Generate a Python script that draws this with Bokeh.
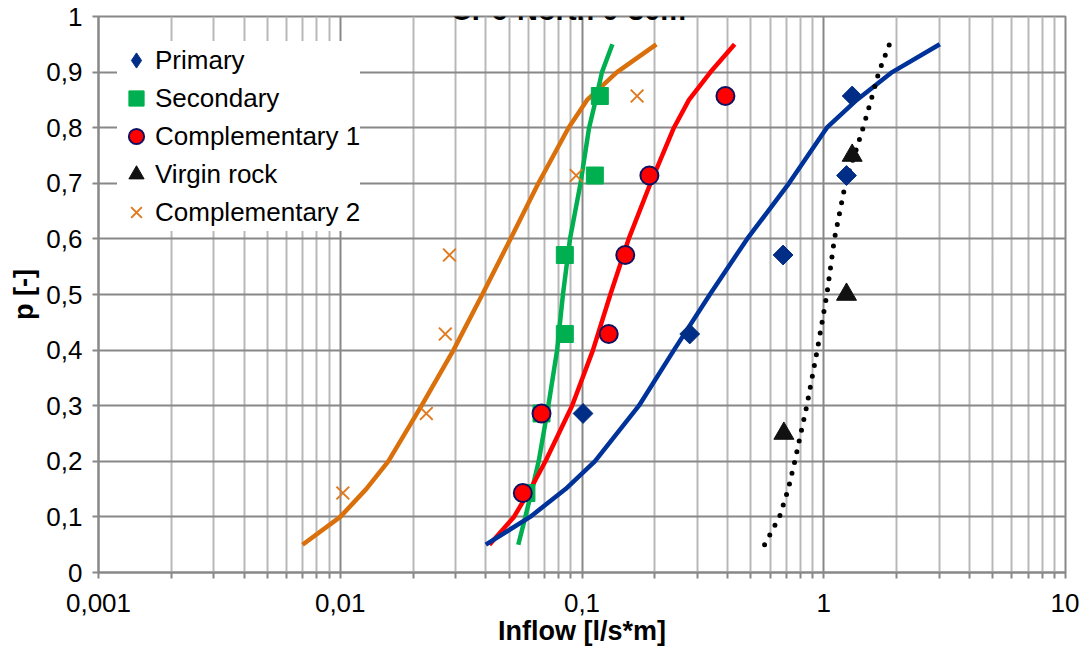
import math
from bokeh.plotting import figure
from bokeh.models import FixedTicker, Label, Legend, LegendItem, Range1d
from bokeh.embed import file_html
from bokeh.resources import INLINE

# ---------------- data ----------------
title_text = "CP6-North 0-30m"
x_label = "Inflow [l/s*m]"
y_label = "p [-]"

x_ticks = [0.001, 0.01, 0.1, 1.0, 10.0]
x_tick_labels = ["0,001", "0,01", "0,1", "1", "10"]
y_ticks = [0.0, 0.1, 0.2, 0.3, 0.4, 0.5, 0.6, 0.7, 0.8, 0.9, 1.0]
y_tick_labels = ["0", "0,1", "0,2", "0,3", "0,4", "0,5", "0,6", "0,7", "0,8", "0,9", "1"]

series_names = ["Primary", "Secondary", "Complementary 1", "Virgin rock", "Complementary 2"]

primary_x = [0.101, 0.279, 0.679, 1.242, 1.311]
primary_p = [0.286, 0.429, 0.571, 0.714, 0.857]

secondary_x = [0.0589, 0.068, 0.0849, 0.0849, 0.113, 0.1185]
secondary_p = [0.143, 0.286, 0.429, 0.571, 0.714, 0.857]

comp1_x = [0.0569, 0.068, 0.129, 0.151, 0.190, 0.392]
comp1_p = [0.143, 0.286, 0.429, 0.571, 0.714, 0.857]

virgin_x = [0.684, 1.242, 1.311]
virgin_p = [0.25, 0.50, 0.75]

comp2_x = [0.01025, 0.0227, 0.0272, 0.0283, 0.0946, 0.169]
comp2_p = [0.143, 0.286, 0.429, 0.571, 0.714, 0.857]

fit_p = [0.05, 0.10, 0.15, 0.20, 0.30, 0.40, 0.50, 0.60, 0.70, 0.80, 0.85, 0.90, 0.95]
fit_primary = [0.040, 0.061, 0.0855, 0.113, 0.172, 0.240, 0.338, 0.482, 0.718, 1.03, 1.37, 1.92, 3.02]
fit_secondary = [0.0545, 0.0583, 0.0622, 0.0662, 0.0726, 0.0789, 0.0834, 0.0892, 0.0986, 0.107, 0.114, 0.121, 0.1336]
fit_comp1 = [0.0414, 0.0523, 0.0612, 0.0706, 0.091, 0.111, 0.131, 0.156, 0.192, 0.240, 0.277, 0.340, 0.428]
fit_virgin = [0.569, 0.656, 0.713, 0.759, 0.851, 0.94, 1.03, 1.107, 1.23, 1.455, 1.57, 1.69, 1.87]
fit_comp2 = [0.00698, 0.0100, 0.0128, 0.0158, 0.0217, 0.0294, 0.0387, 0.0506, 0.066, 0.088, 0.105, 0.1396, 0.203]

# ---------------- figure ----------------
FONT = "Liberation Sans"
GRID_MAJOR = "#888888"
GRID_MINOR = "#b8b8b8"

p = figure(width=1079, height=656, x_axis_type="log",
           x_range=Range1d(0.001, 10), y_range=Range1d(0, 1),
           output_backend="svg", toolbar_location=None,
           min_border_left=98, min_border_right=14,
           min_border_top=16, min_border_bottom=84)
p.background_fill_color = "white"
p.border_fill_color = "white"
p.outline_line_color = GRID_MAJOR
p.outline_line_width = 2

minor_x = [k * 10.0 ** e for e in range(-3, 1) for k in range(2, 10)]
xt = FixedTicker(ticks=x_ticks, minor_ticks=minor_x)
yt = FixedTicker(ticks=y_ticks, minor_ticks=[])
p.xaxis.ticker = xt
p.xgrid.ticker = xt
p.yaxis.ticker = yt
p.ygrid.ticker = yt
p.xaxis.major_label_overrides = dict(zip(x_ticks, x_tick_labels))
p.yaxis.major_label_overrides = dict(zip(y_ticks, y_tick_labels))

p.xgrid.grid_line_color = GRID_MAJOR
p.xgrid.grid_line_width = 2
p.xgrid.minor_grid_line_color = GRID_MINOR
p.xgrid.minor_grid_line_width = 2
p.ygrid.grid_line_color = GRID_MAJOR
p.ygrid.grid_line_width = 2

for ax in (p.xaxis[0], p.yaxis[0]):
    ax.axis_line_color = GRID_MAJOR
    ax.axis_line_width = 2
    ax.major_tick_line_color = GRID_MAJOR
    ax.major_tick_line_width = 2
    ax.minor_tick_line_color = GRID_MAJOR
    ax.minor_tick_line_width = 2
    ax.major_tick_in = 0
    ax.major_tick_out = 6
    ax.minor_tick_in = 0
    ax.major_label_text_font = FONT
    ax.major_label_text_font_size = "26px"
    ax.major_label_text_color = "black"
    ax.axis_label_text_font = FONT
    ax.axis_label_text_font_size = "27px"
    ax.axis_label_text_font_style = "bold"
    ax.axis_label_text_color = "black"

p.xaxis.minor_tick_out = 6
p.yaxis.minor_tick_out = 0
p.yaxis.minor_tick_line_color = None
p.xaxis.axis_label = x_label
p.yaxis.axis_label = y_label
p.xaxis.major_label_standoff = 15
p.yaxis.major_label_standoff = 10
p.xaxis.axis_label_standoff = 1
p.yaxis.axis_label_standoff = 4

# fitted curves
p.line(fit_comp2, fit_p, line_color="#D9700C", line_width=4.5)
p.line(fit_secondary, fit_p, line_color="#00B050", line_width=4.5)
p.line(fit_comp1, fit_p, line_color="#FF0000", line_width=4.5)
p.line(fit_primary, fit_p, line_color="#003399", line_width=4.5)
p.line(fit_virgin, fit_p, line_color="black", line_width=5,
       line_dash="0 11", line_cap="round")

# observed points
r1 = p.scatter(primary_x, primary_p, marker="square", angle=math.pi / 4,
               size=14, fill_color="#002D86", line_color="#002D86")
r2 = p.scatter(secondary_x, secondary_p, marker="square", size=17,
               fill_color="#00B050", line_color="#00B050")
r3 = p.scatter(comp1_x, comp1_p, marker="circle", size=18,
               fill_color="#FF0000", line_color="#0F1060", line_width=2)
r4 = p.scatter(virgin_x, virgin_p, marker="triangle", size=20,
               fill_color="#111111", line_color="#111111")
r5 = p.scatter(comp2_x, comp2_p, marker="x", size=18,
               line_color="#E07A1F", line_width=2)
# legend key for the diamond series (legend keys are drawn unrotated)
r1_key = p.scatter([math.nan], [math.nan], marker="diamond", size=14,
                   fill_color="#002D86", line_color="#002D86")

legend = Legend(items=[LegendItem(label=n, renderers=[r]) for n, r in
                       zip(series_names, [r1_key, r2, r3, r4, r5])],
                location=(19, 341), orientation="vertical",
                glyph_width=38, glyph_height=38, label_height=38,
                spacing=0, padding=0, label_standoff=0, margin=0,
                border_line_color=None, background_fill_color="white",
                background_fill_alpha=1.0,
                label_text_font=FONT, label_text_font_size="26px",
                label_text_color="black")
p.add_layout(legend)

p.add_layout(Label(x=470, y=563, x_units="screen", y_units="screen",
                   text=title_text, text_align="center",
                   text_baseline="alphabetic",
                   text_font=FONT, text_font_style="bold",
                   text_font_size="29px", text_color="black"))

open("out.html", "w").write(file_html(p, INLINE))
